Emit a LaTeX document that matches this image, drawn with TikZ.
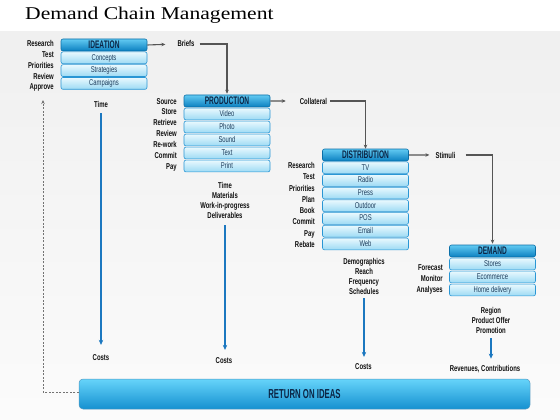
\documentclass[tikz,border=0pt]{standalone}
\usepackage{fontspec}
\setmainfont{Liberation Sans}
\newfontfamily\titlefont[FakeStretch=1.2]{Liberation Serif}
\newfontfamily\condlbl[FakeStretch=0.7]{Liberation Sans}
\newfontfamily\condhdr[FakeStretch=0.6]{Liberation Sans}
\usetikzlibrary{arrows.meta,calc}
\definecolor{hdrtop}{HTML}{62CAF2}
\definecolor{hdrbot}{HTML}{0A7FC0}
\definecolor{hdrborder}{HTML}{0B6FA8}
\definecolor{hdrtext}{HTML}{0B2545}
\definecolor{rowtop}{HTML}{EAF9FE}
\definecolor{rowbot}{HTML}{9CDAF4}
\definecolor{rowborder}{HTML}{2A96D4}
\definecolor{rowtext}{HTML}{1E3D5C}
\definecolor{bluearr}{HTML}{1C78C0}
\definecolor{grayarr}{HTML}{555555}
\definecolor{bartop}{HTML}{66D4FA}
\definecolor{barbot}{HTML}{1590D0}
\definecolor{labeltext}{HTML}{111111}
\tikzset{
  hdr/.style={draw=hdrborder, line width=0.6pt, rounded corners=2pt,
    top color=hdrtop, bottom color=hdrbot, minimum width=86pt, minimum height=12pt,
    inner sep=0pt, text height=7.5pt, text depth=0pt,
    font=\condhdr\bfseries\fontsize{11}{11}\selectfont, text=hdrtext},
  rowbox/.style={draw=rowborder, line width=0.6pt, rounded corners=2pt,
    top color=rowtop, bottom color=rowbot, minimum width=86pt, minimum height=11.8pt,
    inner sep=0pt, text height=5.8pt, text depth=1.2pt,
    font=\condlbl\fontsize{8.4}{8.4}\selectfont, text=rowtext},
  lbl/.style={inner sep=1pt, text=labeltext,
    font=\condlbl\bfseries\fontsize{8.5}{9}\selectfont},
  barbox/.style={rounded corners=4pt, draw=hdrborder!70, line width=0.5pt,
    top color=bartop, bottom color=barbot, minimum width=451pt, minimum height=30pt,
    inner sep=0pt, font=\condhdr\bfseries\fontsize{13}{13}\selectfont, text=hdrtext},
  bluearrow/.style={draw=bluearr, line width=1.5pt, -{Stealth[length=5pt,width=4.5pt]}},
  grayarrow/.style={draw=grayarr, line width=1.1pt, -{Stealth[length=4pt,width=3.5pt]}},
  dashline/.style={draw=gray!90!black, line width=0.8pt, dash pattern=on 2pt off 1.5pt,
    -{Stealth[length=4pt,width=3.5pt]}}
}
\begin{document}
\begin{tikzpicture}[x=1pt,y=-1pt]
\useasboundingbox (0,0) rectangle (560,420);
\fill[white] (0,0) rectangle (560,420);
\shade[top color=gray!12, bottom color=gray!3] (0,32) rectangle (560,420);

\node[anchor=base west, inner sep=0pt, font=\titlefont\fontsize{18}{18}\selectfont] (title) at (25,20) {Demand Chain Management};

% IDEATION
\node[hdr] (ide) at (104,45) {IDEATION};
\foreach \t [count=\i] in {Concepts,Strategies,Campaigns}
  \node[rowbox] (ide\i) at (104,{45+12.8*\i}) {\t};
\foreach \t [count=\i from 0] in {Research,Test,Priorities,Review,Approve}
  \node[lbl,anchor=base east] (ideL\i) at (55,{47+10.75*\i}) {\t};

% PRODUCTION
\node[hdr] (prod) at (227,101) {PRODUCTION};
\foreach \t [count=\i] in {Video,Photo,Sound,Text,Print}
  \node[rowbox] (prod\i) at (227,{101+13*\i}) {\t};
\foreach \t [count=\i from 0] in {Source,Store,Retrieve,Review,Re-work,Commit,Pay}
  \node[lbl,anchor=base east] (prodL\i) at (178,{104+10.9*\i}) {\t};

% DISTRIBUTION
\node[hdr] (dist) at (365.5,155) {DISTRIBUTION};
\foreach \t [count=\i] in {TV,Radio,Press,Outdoor,POS,Email,Web}
  \node[rowbox] (dist\i) at (365.5,{155+12.7*\i}) {\t};
\foreach \t [count=\i from 0] in {Research,Test,Priorities,Plan,Book,Commit,Pay,Rebate}
  \node[lbl,anchor=base east] (distL\i) at (316,{168.5+11.25*\i}) {\t};

% DEMAND
\node[hdr] (dem) at (492.5,251) {DEMAND};
\foreach \t [count=\i] in {Stores,Ecommerce,Home delivery}
  \node[rowbox] (dem\i) at (492.5,{251+13*\i}) {\t};
\foreach \t [count=\i from 0] in {Forecast,Monitor,Analyses}
  \node[lbl,anchor=base east] (demL\i) at (444,{270.5+10.75*\i}) {\t};

% connector labels
\node[lbl,anchor=base] (briefs) at (186,47) {Briefs};
\node[lbl,anchor=base] (coll) at (313.5,104) {Collateral};
\node[lbl,anchor=base] (stim) at (445.5,158) {Stimuli};

\draw[grayarrow, shorten >=11pt] (ide.east) -- (briefs.west);
\draw[grayarrow, shorten <=4pt, shorten >=1pt] (briefs.east) -| (prod.north);
\draw[grayarrow, shorten >=13pt] (prod.east) -- (coll.west);
\draw[grayarrow, shorten <=2pt, shorten >=0pt] (coll.east) -| (dist.north);
\draw[grayarrow, shorten >=5pt] (dist.east) -- (stim.west);
\draw[grayarrow, shorten <=9pt, shorten >=1pt] (stim.east) -| (dem.north);

% bottom texts
\node[lbl,anchor=base] (ideT) at (101,107) {Time};
\foreach \t [count=\i] in {Time,Materials,Work-in-progress,Deliverables}
  \node[lbl,anchor=base] (prodT\i) at (225,{178+10*\i}) {\t};
\foreach \t [count=\i] in {Demographics,Reach,Frequency,Schedules}
  \node[lbl,anchor=base] (distT\i) at (364,{253.7+10.3*\i}) {\t};
\foreach \t [count=\i] in {Region,Product Offer,Promotion}
  \node[lbl,anchor=base] (demT\i) at (491,{303+10*\i}) {\t};

\node[lbl,anchor=base] (ideC) at (101,360) {Costs};
\node[lbl,anchor=base] (prodC) at (224,363) {Costs};
\node[lbl,anchor=base] (distC) at (363.5,369) {Costs};
\node[lbl,anchor=base] (demC) at (485,371) {Revenues, Contributions};

\draw[bluearrow, shorten <=5pt, shorten >=8pt] (ideT.south) -- (ideT.south |- ideC.north);
\draw[bluearrow, shorten <=6pt, shorten >=6pt] (prodT4.south) -- (prodT4.south |- prodC.north);
\draw[bluearrow, shorten <=2pt, shorten >=5pt] (distT4.south) -- (distT4.south |- distC.north);
\draw[bluearrow, shorten <=4pt, shorten >=5pt] (demT3.south) -- (demT3.south |- demC.north);

% return bar
\node[barbox] (bar) at (304.5,394) {RETURN ON IDEAS};
\coordinate (dtop) at (43,100);
\draw[dashline] ([yshift=2pt]bar.west) -| (dtop);
\end{tikzpicture}
\end{document}
